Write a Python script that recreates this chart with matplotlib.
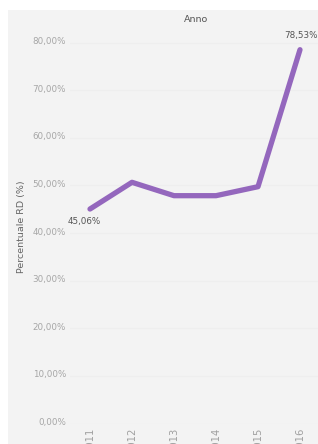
import matplotlib.pyplot as plt
from matplotlib.patches import Rectangle
from matplotlib.ticker import FuncFormatter, MultipleLocator
from matplotlib.transforms import ScaledTranslation

years = ['2011', '2012', '2013', '2014', '2015', '2016']
rd_pct = [45.06, 50.67, 47.86, 47.86, 49.75, 78.53]
labelled = {0: 'below', 5: 'above'}

W, H = 318, 444
fig = plt.figure(figsize=(W / 100, H / 100), dpi=100)
fig.patch.set_facecolor('white')
bg = '#f3f3f3'
fig.patches.append(Rectangle((8 / W, 0), 1, 1 - 10 / H, transform=fig.transFigure,
                             facecolor=bg, edgecolor='none', zorder=-5))

# axes box in pixels: left 70, 0% line at y=423.5, top at y=30
ax = fig.add_axes([70 / W, 20.5 / H, (W - 70) / W, (423.5 - 30) / H])
ax.set_zorder(1)
ax.set_facecolor(bg)
for s in ax.spines.values():
    s.set_visible(False)

x = list(range(len(years)))
ax.plot(x, rd_pct, color='#9467bd', lw=3.8, solid_capstyle='round', solid_joinstyle='round', zorder=3)

ax.set_xlim(-20 / 42, 5 + 18 / 42)
ax.set_ylim(0, (423.5 - 30) / 4.76)
ax.yaxis.set_major_locator(MultipleLocator(10))
ax.yaxis.set_major_formatter(FuncFormatter(lambda v, p: f'{v:.2f}%'.replace('.', ',')))
ax.grid(axis='y', color='#eeeeee', lw=0.8)
ax.set_axisbelow(True)
ax.tick_params(axis='y', length=0, pad=2.9, labelsize=6.3, labelcolor='#a6a6a6')
up = ScaledTranslation(0, 2 / 100, fig.dpi_scale_trans)
for lab in ax.get_yticklabels():
    lab.set_transform(lab.get_transform() + up)
ax.set_xticks(x)
ax.set_xticklabels(years, rotation=90)
ax.tick_params(axis='x', length=0, pad=3.2, labelsize=7.2, labelcolor='#a0a0a0')

for i, pos in labelled.items():
    txt = f'{rd_pct[i]:.2f}%'.replace('.', ',')
    if pos == 'below':
        ax.annotate(txt, (x[i], rd_pct[i]), xytext=(-4, -9), textcoords='offset points',
                    ha='center', va='center', fontsize=6.3, color='#555555')
    else:
        ax.annotate(txt, (x[i], rd_pct[i]), xytext=(0.5, 10.5), textcoords='offset points',
                    ha='center', va='center', fontsize=6.3, color='#555555')

fig.text(196 / W, 1 - 19 / H, 'Anno', ha='center', va='center', fontsize=6.8, color='#555555')
fig.text(22 / W, 1 - 227 / H, 'Percentuale RD (%)', ha='center', va='center',
         rotation=90, fontsize=6.8, color='#666666')

fig.savefig('out.png', dpi=100, facecolor='white')
